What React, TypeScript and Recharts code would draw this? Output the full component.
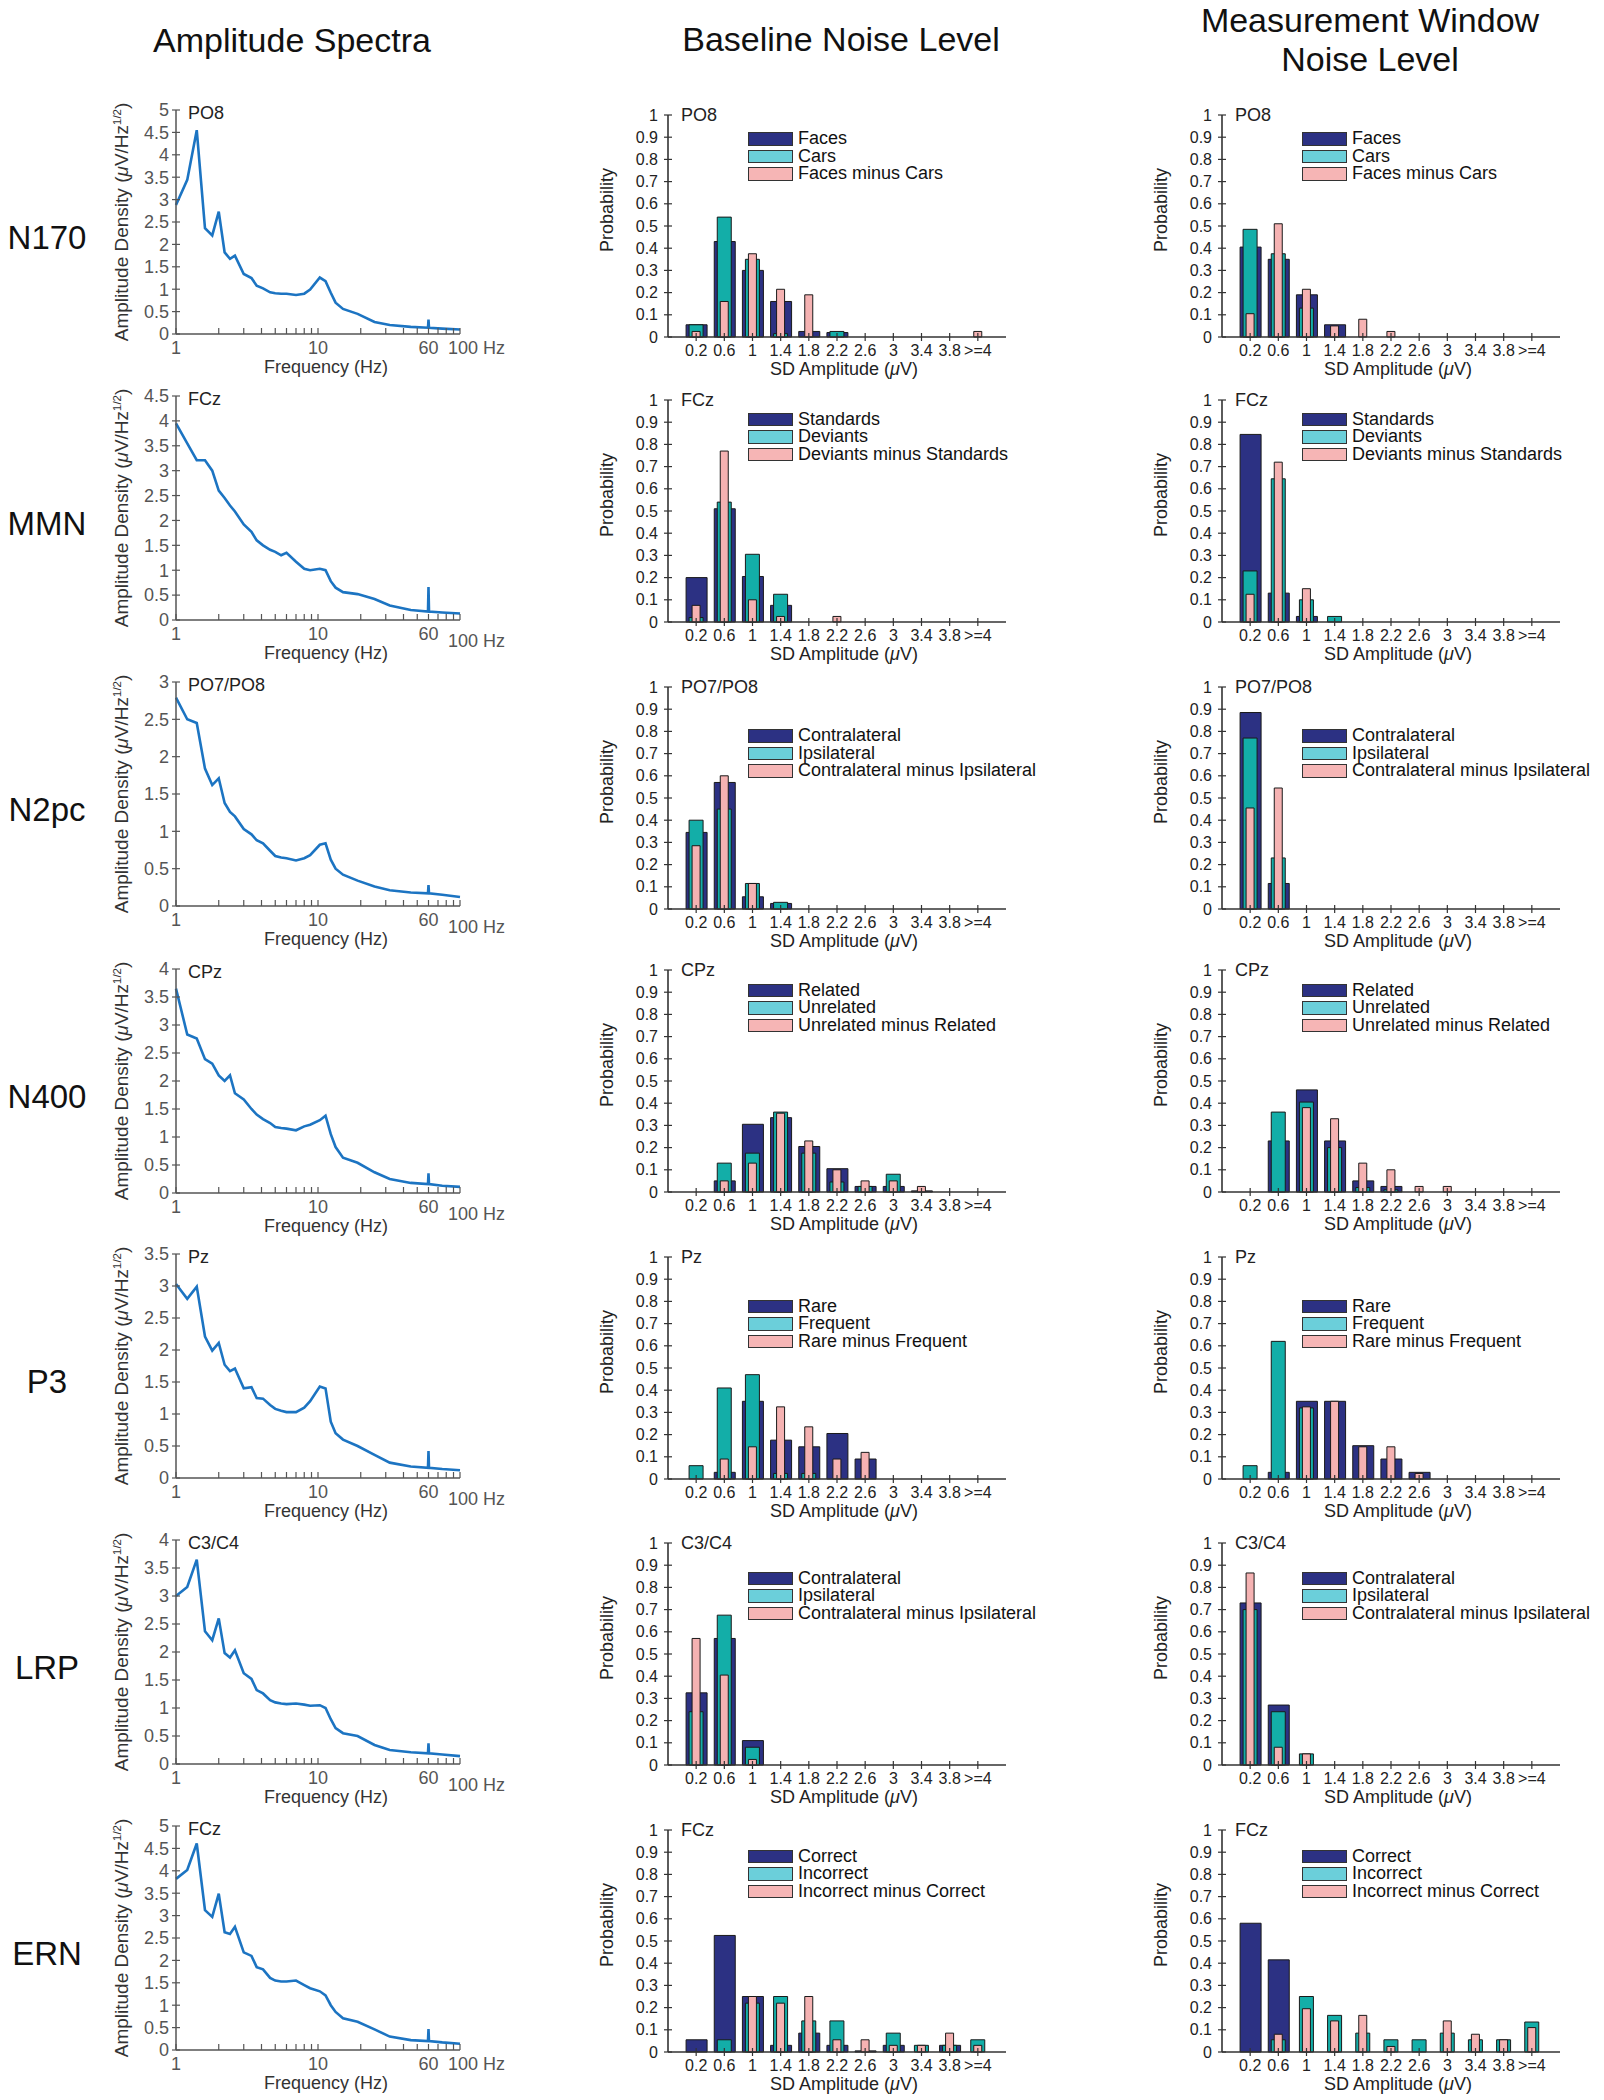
import React from "react";
import { LineChart, Line, BarChart, Bar, XAxis, YAxis } from "recharts";

// ---------- data ----------
const erpComponents = ["N170", "MMN", "N2pc", "N400", "P3", "LRP", "ERN"];
const electrodeSites = ["PO8", "FCz", "PO7/PO8", "CPz", "Pz", "C3/C4", "FCz"];
const conditionA = ["Faces", "Standards", "Contralateral", "Related", "Rare", "Contralateral", "Correct"];
const conditionB = ["Cars", "Deviants", "Ipsilateral", "Unrelated", "Frequent", "Ipsilateral", "Incorrect"];
const differenceWave = [
  "Faces minus Cars",
  "Deviants minus Standards",
  "Contralateral minus Ipsilateral",
  "Unrelated minus Related",
  "Rare minus Frequent",
  "Contralateral minus Ipsilateral",
  "Incorrect minus Correct",
];

const frequencyHz = [
  1, 1.2, 1.4, 1.6, 1.8, 2, 2.2, 2.4, 2.6, 3, 3.4, 3.7, 4.1, 4.6, 5, 5.5, 6, 7, 8, 8.8,
  10.3, 11.3, 12.3, 13.3, 15, 19, 25, 32, 45, 59.5, 60, 60.5, 75, 100,
];
const amplitudeDensity = [
  [2.88, 3.44, 4.55, 2.36, 2.2, 2.73, 1.82, 1.68, 1.75, 1.34, 1.25, 1.08, 1.02, 0.93, 0.91, 0.9, 0.9, 0.87, 0.9, 0.99,
    1.26, 1.18, 0.92, 0.7, 0.56, 0.45, 0.27, 0.2, 0.16, 0.14, 0.32, 0.14, 0.12, 0.1],
  [3.95, 3.55, 3.21, 3.21, 3.0, 2.6, 2.45, 2.3, 2.18, 1.92, 1.77, 1.6, 1.5, 1.41, 1.37, 1.3, 1.35, 1.17, 1.03, 1.0,
    1.03, 1.0, 0.78, 0.65, 0.56, 0.52, 0.42, 0.29, 0.2, 0.17, 0.66, 0.17, 0.15, 0.13],
  [2.79, 2.5, 2.45, 1.84, 1.62, 1.71, 1.38, 1.26, 1.2, 1.03, 0.96, 0.88, 0.84, 0.74, 0.67, 0.65, 0.64, 0.61, 0.64, 0.68,
    0.82, 0.84, 0.62, 0.5, 0.42, 0.34, 0.26, 0.21, 0.18, 0.17, 0.28, 0.17, 0.15, 0.12],
  [3.65, 2.83, 2.76, 2.39, 2.31, 2.1, 2.0, 2.1, 1.78, 1.67, 1.5, 1.4, 1.32, 1.25, 1.18, 1.16, 1.15, 1.12, 1.19, 1.22,
    1.3, 1.38, 1.05, 0.82, 0.63, 0.54, 0.37, 0.25, 0.18, 0.16, 0.35, 0.16, 0.13, 0.11],
  [3.03, 2.8, 2.99, 2.21, 1.99, 2.11, 1.77, 1.67, 1.71, 1.4, 1.42, 1.25, 1.24, 1.14, 1.08, 1.05, 1.03, 1.03, 1.1, 1.2,
    1.43, 1.4, 0.88, 0.7, 0.6, 0.5, 0.36, 0.24, 0.18, 0.16, 0.42, 0.16, 0.14, 0.12],
  [3.0, 3.16, 3.65, 2.37, 2.21, 2.6, 1.98, 1.9, 2.03, 1.62, 1.52, 1.32, 1.26, 1.14, 1.1, 1.08, 1.07, 1.08, 1.06, 1.04,
    1.05, 1.0, 0.8, 0.64, 0.55, 0.5, 0.34, 0.25, 0.21, 0.19, 0.37, 0.19, 0.17, 0.14],
  [3.82, 4.02, 4.61, 3.12, 2.97, 3.49, 2.63, 2.59, 2.75, 2.18, 2.1, 1.85, 1.8, 1.61, 1.55, 1.53, 1.53, 1.55, 1.45, 1.38,
    1.31, 1.22, 1.0, 0.85, 0.71, 0.63, 0.46, 0.3, 0.22, 0.2, 0.47, 0.2, 0.17, 0.14],
];
const amplitudeAxisMax = [5, 4.5, 3, 4, 3.5, 4, 5];
const frequencyTicks = [1, 2, 3, 4, 5, 6, 7, 8, 9, 10, 20, 30, 40, 50, 60, 70, 80, 90, 100];

const sdBins = ["0.2", "0.6", "1", "1.4", "1.8", "2.2", "2.6", "3", "3.4", "3.8", ">=4"];
const probabilityTicks = [0, 0.1, 0.2, 0.3, 0.4, 0.5, 0.6, 0.7, 0.8, 0.9, 1];

// baseline period, one row per component
const baselineA = [
  [0.055, 0.43, 0.3, 0.16, 0.025, 0.02, 0, 0, 0, 0, 0],
  [0.2, 0.51, 0.205, 0.075, 0, 0, 0, 0, 0, 0, 0],
  [0.345, 0.57, 0.055, 0.025, 0, 0, 0, 0, 0, 0, 0],
  [0, 0.05, 0.305, 0.335, 0.205, 0.105, 0.025, 0.025, 0.005, 0, 0],
  [0, 0.03, 0.35, 0.175, 0.145, 0.205, 0.09, 0, 0, 0, 0],
  [0.325, 0.57, 0.11, 0, 0, 0, 0, 0, 0, 0, 0],
  [0.055, 0.525, 0.25, 0.03, 0.085, 0.03, 0.005, 0.03, 0, 0.03, 0],
];
const baselineB = [
  [0.055, 0.54, 0.35, 0.015, 0, 0.025, 0, 0, 0, 0, 0],
  [0.02, 0.54, 0.305, 0.125, 0, 0, 0, 0, 0, 0, 0],
  [0.4, 0.45, 0.115, 0.03, 0, 0, 0, 0, 0, 0, 0],
  [0, 0.13, 0.175, 0.36, 0.175, 0.045, 0.025, 0.08, 0, 0, 0],
  [0.06, 0.41, 0.47, 0.025, 0.025, 0, 0, 0, 0, 0, 0],
  [0.24, 0.675, 0.08, 0, 0, 0, 0, 0, 0, 0, 0],
  [0, 0.055, 0.22, 0.25, 0.14, 0.14, 0, 0.085, 0.03, 0.03, 0.055],
];
const baselineDiff = [
  [0.025, 0.16, 0.375, 0.215, 0.19, 0, 0, 0, 0, 0, 0.025],
  [0.075, 0.77, 0.1, 0.025, 0, 0.025, 0, 0, 0, 0, 0],
  [0.285, 0.6, 0.115, 0, 0, 0, 0, 0, 0, 0, 0],
  [0, 0.05, 0.13, 0.355, 0.23, 0.1, 0.05, 0.05, 0.025, 0, 0],
  [0, 0.09, 0.145, 0.325, 0.235, 0.09, 0.12, 0, 0, 0, 0],
  [0.57, 0.405, 0.025, 0, 0, 0, 0, 0, 0, 0, 0],
  [0, 0, 0.25, 0.22, 0.25, 0.055, 0.055, 0.03, 0.03, 0.085, 0.03],
];

// measurement window
const windowA = [
  [0.405, 0.35, 0.19, 0.055, 0, 0, 0, 0, 0, 0, 0],
  [0.845, 0.13, 0.025, 0, 0, 0, 0, 0, 0, 0, 0],
  [0.885, 0.115, 0, 0, 0, 0, 0, 0, 0, 0, 0],
  [0, 0.23, 0.46, 0.23, 0.05, 0.025, 0, 0, 0, 0, 0],
  [0, 0.03, 0.35, 0.35, 0.15, 0.09, 0.03, 0, 0, 0, 0],
  [0.73, 0.27, 0, 0, 0, 0, 0, 0, 0, 0, 0],
  [0.58, 0.415, 0, 0, 0, 0, 0, 0, 0, 0, 0],
];
const windowB = [
  [0.485, 0.375, 0.13, 0, 0, 0, 0, 0, 0, 0, 0],
  [0.23, 0.645, 0.1, 0.025, 0, 0, 0, 0, 0, 0, 0],
  [0.77, 0.23, 0, 0, 0, 0, 0, 0, 0, 0, 0],
  [0, 0.36, 0.405, 0.2, 0.02, 0.01, 0, 0, 0, 0, 0],
  [0.06, 0.62, 0.32, 0, 0, 0, 0, 0, 0, 0, 0],
  [0.7, 0.24, 0.05, 0, 0, 0, 0, 0, 0, 0, 0],
  [0, 0.055, 0.25, 0.165, 0.085, 0.055, 0.055, 0.085, 0.055, 0.055, 0.135],
];
const windowDiff = [
  [0.105, 0.51, 0.215, 0.05, 0.08, 0.025, 0, 0, 0, 0, 0],
  [0.125, 0.72, 0.15, 0, 0, 0, 0, 0, 0, 0, 0],
  [0.455, 0.545, 0, 0, 0, 0, 0, 0, 0, 0, 0],
  [0, 0, 0.38, 0.33, 0.13, 0.1, 0.025, 0.025, 0, 0, 0],
  [0, 0, 0.325, 0.35, 0.145, 0.145, 0.025, 0, 0, 0, 0],
  [0.865, 0.08, 0.05, 0, 0, 0, 0, 0, 0, 0, 0],
  [0, 0.08, 0.195, 0.14, 0.165, 0.025, 0, 0.14, 0.08, 0.055, 0.11],
];

// ---------- layout / style ----------
const FONT = '"Liberation Sans", Arial, Helvetica, sans-serif';
const NAVY = "#2c3183";
const TEAL = "#13aea8";
const PINK = "#f5b2b2";
const legendFill = [NAVY, "#6bcfda", "#f6b5b5"];
const LINE_BLUE = "#1c74c2";

const SPEC_AXIS_X = 176;
const SPEC_W = 284;
const SPEC_H = 224;
const SPEC_PAD_T = 20;
const SPEC_PAD_B = 40;
const SPEC_SVG_W = 530;
const spectrumTop = [110, 396, 682, 969, 1254, 1540, 1826];
const lowered100 = [false, true, true, true, true, true, false];

const BAR_W = 338;
const BAR_H = 222;
const BAR_PAD_T = 20;
const BAR_PAD_B = 32;
const BAR_PAD_L = 100;
const BAR_PAD_R = 20;
const barTop = [115, 400, 687, 970, 1257, 1543, 1830];
const baselineAxisX = 668;
const windowAxisX = 1222;
const legendOffset = [15, 10.5, 40, 11.7, 40.6, 26.7, 17.5];

function fmt(v: number) {
  return Number.isInteger(v) ? String(v) : v.toFixed(1);
}

function Centered({ x, y, size, children, rotate, color, lh }: any) {
  return (
    <div
      style={{
        position: "absolute",
        left: x,
        top: y,
        transform: `translate(-50%, -50%)${rotate ? " rotate(-90deg)" : ""}`,
        fontSize: size,
        lineHeight: lh ? `${lh}px` : 1.15,
        whiteSpace: "nowrap",
        textAlign: "center",
        color: color || "#111",
      }}
    >
      {children}
    </div>
  );
}

function LeftText({ x, y, size, children, color }: any) {
  return (
    <div
      style={{
        position: "absolute",
        left: x,
        top: y,
        transform: "translate(0, -50%)",
        fontSize: size,
        lineHeight: 1.15,
        whiteSpace: "nowrap",
        color: color || "#111",
      }}
    >
      {children}
    </div>
  );
}

// ---------- spectrum column ----------
function specXTick(p: any, axisY: number, lowered: boolean) {
  const v = p.payload.value;
  const x = p.x;
  let label = null;
  if (v === 1 || v === 10 || v === 60) {
    label = (
      <text x={x} y={axisY + 14} dy="0.35em" textAnchor="middle" fontSize={18} fill="#555" fontFamily={FONT}>
        {v}
      </text>
    );
  }
  if (v === 100) {
    label = (
      <text x={x - 12} y={axisY + (lowered ? 21 : 14)} dy="0.35em" textAnchor="start" fontSize={18} fill="#555" fontFamily={FONT}>
        100 Hz
      </text>
    );
  }
  return (
    <g>
      <line x1={x} x2={x} y1={axisY} y2={axisY - 6} stroke="#555" strokeWidth={1.2} />
      {label}
    </g>
  );
}

function specYTick(p: any) {
  const y = p.y;
  return (
    <g>
      <line x1={SPEC_AXIS_X - 4} x2={SPEC_AXIS_X + 4} y1={y} y2={y} stroke="#555" strokeWidth={1.2} />
      <text x={SPEC_AXIS_X - 7} y={y} dy="0.35em" textAnchor="end" fontSize={18} fill="#555" fontFamily={FONT}>
        {fmt(p.payload.value)}
      </text>
    </g>
  );
}

function SpectrumPanel({ row }: { row: number }) {
  const data = frequencyHz.map((f, i) => ({ f, amp: amplitudeDensity[row][i] }));
  const max = amplitudeAxisMax[row];
  const yTicks = Array.from({ length: Math.round(max / 0.5) + 1 }, (_, i) => i * 0.5);
  const axisY = SPEC_PAD_T + SPEC_H;
  return (
    <div style={{ position: "absolute", left: 0, top: spectrumTop[row] - SPEC_PAD_T }}>
      <LineChart
        width={SPEC_SVG_W}
        height={SPEC_PAD_T + SPEC_H + SPEC_PAD_B}
        data={data}
        margin={{ top: SPEC_PAD_T, right: SPEC_SVG_W - SPEC_AXIS_X - SPEC_W, bottom: SPEC_PAD_B - 1, left: SPEC_AXIS_X - 1 }}
      >
        <XAxis
          dataKey="f"
          type="number"
          scale="log"
          domain={[1, 100]}
          ticks={frequencyTicks}
          interval={0}
          height={1}
          axisLine={{ stroke: "#555", strokeWidth: 1.5 }}
          tickLine={false}
          tick={(p: any) => specXTick(p, axisY, lowered100[row])}
        />
        <YAxis
          type="number"
          domain={[0, max]}
          ticks={yTicks}
          interval={0}
          width={1}
          axisLine={{ stroke: "#555", strokeWidth: 1.5 }}
          tickLine={false}
          tick={(p: any) => specYTick(p)}
        />
        <Line type="linear" dataKey="amp" stroke={LINE_BLUE} strokeWidth={2.6} dot={false} isAnimationActive={false} />
      </LineChart>
    </div>
  );
}

// ---------- noise histograms ----------
function barXTick(p: any, axisY: number) {
  const x = p.x;
  return (
    <g>
      <line x1={x} x2={x} y1={axisY - 4} y2={axisY + 4} stroke="#333" strokeWidth={1.2} />
      <text x={x} y={axisY + 13} dy="0.35em" textAnchor="middle" fontSize={16} fill="#222" fontFamily={FONT}>
        {p.payload.value}
      </text>
    </g>
  );
}

function barYTick(p: any) {
  const y = p.y;
  return (
    <g>
      <line x1={BAR_PAD_L - 4} x2={BAR_PAD_L + 4} y1={y} y2={y} stroke="#333" strokeWidth={1.2} />
      <text x={BAR_PAD_L - 10} y={y} dy="0.35em" textAnchor="end" fontSize={16} fill="#222" fontFamily={FONT}>
        {fmt(p.payload.value)}
      </text>
    </g>
  );
}

function NoisePanel({ row, axisX, a, b, d }: any) {
  const data = sdBins.map((bin, i) => ({ bin, a: a[row][i], b: b[row][i], d: d[row][i] }));
  const half = BAR_W / 24;
  const axisY = BAR_PAD_T + BAR_H;
  return (
    <div style={{ position: "absolute", left: axisX - BAR_PAD_L, top: barTop[row] - BAR_PAD_T }}>
      <BarChart
        width={BAR_PAD_L + BAR_W + BAR_PAD_R}
        height={BAR_PAD_T + BAR_H + BAR_PAD_B}
        data={data}
        margin={{ top: BAR_PAD_T, right: BAR_PAD_R, bottom: BAR_PAD_B - 1, left: BAR_PAD_L - 1 }}
      >
        <XAxis
          xAxisId="a"
          dataKey="bin"
          height={1}
          padding={{ left: half, right: half }}
          interval={0}
          tickLine={false}
          axisLine={{ stroke: "#333", strokeWidth: 1.6 }}
          tick={(p: any) => barXTick(p, axisY)}
        />
        <XAxis xAxisId="b" dataKey="bin" hide padding={{ left: half, right: half }} />
        <XAxis xAxisId="c" dataKey="bin" hide padding={{ left: half, right: half }} />
        <YAxis
          domain={[0, 1]}
          ticks={probabilityTicks}
          interval={0}
          width={1}
          axisLine={{ stroke: "#333", strokeWidth: 1.6 }}
          tickLine={false}
          tick={(p: any) => barYTick(p)}
        />
        <Bar xAxisId="a" dataKey="a" barSize={21} fill={NAVY} stroke="#1a1a1a" strokeWidth={1} isAnimationActive={false} />
        <Bar xAxisId="b" dataKey="b" barSize={14} fill={TEAL} stroke="#1a1a1a" strokeWidth={1} isAnimationActive={false} />
        <Bar xAxisId="c" dataKey="d" barSize={8} fill={PINK} stroke="#1a1a1a" strokeWidth={1} isAnimationActive={false} />
      </BarChart>
    </div>
  );
}

function NoiseLegend({ left, top, labels }: any) {
  return (
    <div style={{ position: "absolute", left, top }}>
      {labels.map((lab: string, i: number) => (
        <div key={i} style={{ display: "flex", alignItems: "center", height: 17.5 }}>
          <div
            style={{
              width: 45,
              height: 13.5,
              boxSizing: "border-box",
              background: legendFill[i],
              border: "1.5px solid #333",
            }}
          />
          <span style={{ marginLeft: 5, fontSize: 18, lineHeight: "17.5px", color: "#111", whiteSpace: "nowrap" }}>
            {lab}
          </span>
        </div>
      ))}
    </div>
  );
}

function NoiseLabels({ row, axisX }: any) {
  const top = barTop[row];
  return (
    <>
      <LeftText x={axisX + 13} y={top} size={18} color="#222">
        {electrodeSites[row]}
      </LeftText>
      <Centered x={axisX - 61} y={top + 95} size={18} rotate color="#222">
        Probability
      </Centered>
      <Centered x={axisX + 176} y={top + BAR_H + 32} size={18} color="#222">
        SD Amplitude (<i>μ</i>V)
      </Centered>
      <NoiseLegend
        left={axisX + 80}
        top={top + legendOffset[row]}
        labels={[conditionA[row], conditionB[row], differenceWave[row]]}
      />
    </>
  );
}

export default function App() {
  return (
    <div
      style={{
        position: "relative",
        width: 1604,
        height: 2100,
        background: "#fff",
        fontFamily: FONT,
        color: "#111",
        overflow: "hidden",
      }}
    >
      <style>{"body{margin:0}"}</style>
      <Centered x={292} y={41} size={34}>
        Amplitude Spectra
      </Centered>
      <Centered x={841} y={40} size={34}>
        Baseline Noise Level
      </Centered>
      <Centered x={1370} y={40} size={34} lh={39}>
        Measurement Window
        <br />
        Noise Level
      </Centered>

      {erpComponents.map((name, row) => {
        const st = spectrumTop[row];
        return (
          <React.Fragment key={name}>
            <Centered x={47} y={st + 128} size={33}>
              {name}
            </Centered>

            <SpectrumPanel row={row} />
            <LeftText x={SPEC_AXIS_X + 12} y={st + 3} size={18} color="#222">
              {electrodeSites[row]}
            </LeftText>
            <Centered x={122} y={st + SPEC_H / 2} size={19} rotate color="#333">
              Amplitude Density (<i>μ</i>V/Hz<sup style={{ fontSize: "0.6em" }}>1/2</sup>)
            </Centered>
            <Centered x={326} y={st + SPEC_H + 33} size={18} color="#333">
              Frequency (Hz)
            </Centered>

            <NoisePanel row={row} axisX={baselineAxisX} a={baselineA} b={baselineB} d={baselineDiff} />
            <NoiseLabels row={row} axisX={baselineAxisX} />

            <NoisePanel row={row} axisX={windowAxisX} a={windowA} b={windowB} d={windowDiff} />
            <NoiseLabels row={row} axisX={windowAxisX} />
          </React.Fragment>
        );
      })}
    </div>
  );
}
